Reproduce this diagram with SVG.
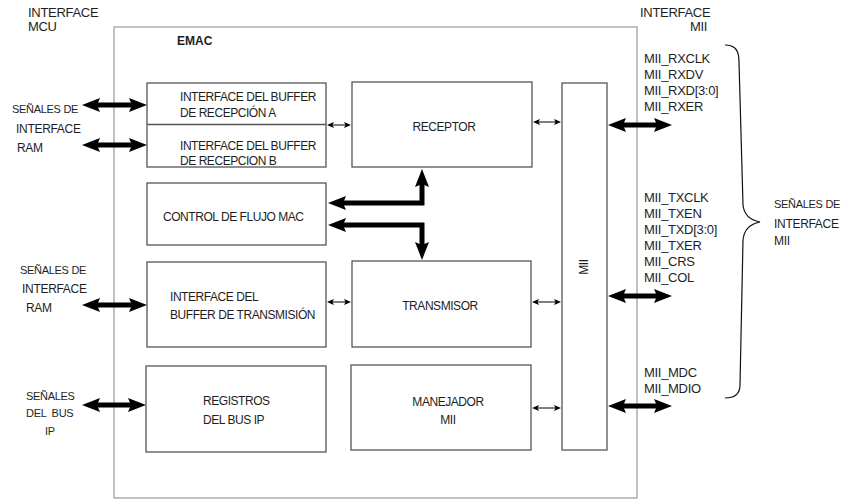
<svg xmlns="http://www.w3.org/2000/svg" width="844" height="499" viewBox="0 0 844 499">
<style>
text{font-family:"Liberation Sans",Arial,sans-serif;fill:#1e1e1e}
.bx{font-size:12px;letter-spacing:-0.45px}
.lb{font-size:11px;letter-spacing:-0.3px}
.hd{font-size:13px;letter-spacing:-0.3px}
.sg{font-size:13px;letter-spacing:-0.3px}
.box{fill:#fff;stroke:#555;stroke-width:1.3}
.outer{fill:#fff;stroke:#999;stroke-width:1.2}
.big{fill:none;stroke:#000;stroke-width:5;marker-start:url(#bh);marker-end:url(#bh)}
.sm{fill:none;stroke:#000;stroke-width:1;marker-start:url(#sh);marker-end:url(#sh)}
.mid{text-anchor:middle}
</style>
<defs>
<marker id="bh" viewBox="0 0 18 14" refX="3" refY="7" markerWidth="18" markerHeight="14" markerUnits="userSpaceOnUse" orient="auto-start-reverse">
<path d="M0,0 L18,7 L0,14 L3,7 Z" fill="#000"/>
</marker>
<marker id="sh" viewBox="0 0 7 6" refX="1.5" refY="3" markerWidth="7" markerHeight="6" markerUnits="userSpaceOnUse" orient="auto-start-reverse">
<path d="M0,0 L7,3 L0,6 L1.5,3 Z" fill="#000"/>
</marker>
</defs>
<rect width="844" height="499" fill="#fff"/>

<g id="emac">
<rect class="outer" x="114" y="27" width="523" height="471"/>
<text x="177" y="45" style="font-size:12px;font-weight:bold">EMAC</text>
</g>

<g id="label-mcu"><text class="hd" x="28" y="17">INTERFACE</text><text class="hd" x="28" y="31">MCU</text></g>
<g id="label-mii-if"><text class="hd" x="640" y="17">INTERFACE</text><text class="hd" x="690" y="31">MII</text></g>

<g id="label-ram-rx">
<text class="lb" x="12" y="113">SEÑALES DE</text>
<text class="lb" x="16" y="133" style="font-size:12px">INTERFACE</text>
<text class="lb" x="17" y="152" style="font-size:12px">RAM</text>
</g>
<g id="label-ram-tx">
<text class="lb" x="20" y="274">SEÑALES DE</text>
<text class="lb" x="22" y="293" style="font-size:12px">INTERFACE</text>
<text class="lb" x="26" y="312" style="font-size:12px">RAM</text>
</g>
<g id="label-bus-ip">
<text class="lb" x="26" y="400">SEÑALES</text>
<text class="lb" x="26" y="417" xml:space="preserve">DEL  BUS</text>
<text class="lb" x="45" y="435">IP</text>
</g>

<g id="buffer-rx">
<rect class="box" x="147" y="83" width="179" height="84"/>
<line x1="147" y1="124.5" x2="326" y2="124.5" stroke="#555" stroke-width="1.3"/>
<text class="bx" x="180" y="101">INTERFACE DEL BUFFER</text>
<text class="bx" x="180" y="117">DE RECEPCIÓN A</text>
<text class="bx" x="180" y="150">INTERFACE DEL BUFFER</text>
<text class="bx" x="180" y="165">DE RECEPCION B</text>
</g>

<g id="control">
<rect class="box" x="147" y="183" width="179" height="62"/>
<text class="bx" x="163" y="221">CONTROL DE FLUJO MAC</text>
</g>

<g id="buffer-tx">
<rect class="box" x="147" y="262" width="179" height="85"/>
<text class="bx" x="170" y="301">INTERFACE DEL</text>
<text class="bx" x="170" y="319">BUFFER DE TRANSMISIÓN</text>
</g>

<g id="registros">
<rect class="box" x="146" y="366" width="180" height="86"/>
<text class="bx" x="203" y="405">REGISTROS</text>
<text class="bx" x="203" y="424">DEL BUS IP</text>
</g>

<g id="receptor">
<rect class="box" x="352" y="82" width="180" height="85"/>
<text class="bx mid" x="444" y="131">RECEPTOR</text>
</g>

<g id="transmisor">
<rect class="box" x="352" y="261" width="179" height="86"/>
<text class="bx mid" x="440" y="310">TRANSMISOR</text>
</g>

<g id="manejador">
<rect class="box" x="351" y="365" width="180" height="85"/>
<text class="bx mid" x="448" y="406">MANEJADOR</text>
<text class="bx mid" x="448" y="424">MII</text>
</g>

<g id="mii">
<rect class="box" x="562" y="83" width="45" height="367"/>
<text class="bx mid" x="584" y="271" transform="rotate(-90 584 267)">MII</text>
</g>

<g id="signals-rx">
<text class="sg" x="644" y="63">MII_RXCLK</text>
<text class="sg" x="644" y="79">MII_RXDV</text>
<text class="sg" x="644" y="95">MII_RXD[3:0]</text>
<text class="sg" x="644" y="111">MII_RXER</text>
</g>
<g id="signals-tx">
<text class="sg" x="644" y="202">MII_TXCLK</text>
<text class="sg" x="644" y="218">MII_TXEN</text>
<text class="sg" x="644" y="234">MII_TXD[3:0]</text>
<text class="sg" x="644" y="250">MII_TXER</text>
<text class="sg" x="644" y="266">MII_CRS</text>
<text class="sg" x="644" y="282">MII_COL</text>
</g>
<g id="signals-md">
<text class="sg" x="644" y="377">MII_MDC</text>
<text class="sg" x="644" y="393">MII_MDIO</text>
</g>
<g id="label-mii-signals">
<path d="M725,45 C735,45 739,50 739,62 L743,205 C744,215 750,220 760,222 C750,224 744,229 743,240 L740,385 C740,394 735,398 725,398" fill="none" stroke="#111" stroke-width="1.2"/>
<text class="lb" x="774" y="208">SEÑALES DE</text>
<text class="lb" x="774" y="228" style="font-size:12px">INTERFACE</text>
<text class="lb" x="774" y="245" style="font-size:12px">MII</text>
</g>

<g id="connectors">
<line class="big" x1="97" y1="105" x2="132" y2="105"/>
<line class="big" x1="97" y1="145" x2="132" y2="145"/>
<line class="big" x1="97" y1="305" x2="132" y2="305"/>
<line class="big" x1="97" y1="405" x2="131" y2="405"/>
<line class="big" x1="623" y1="125" x2="657" y2="125"/>
<line class="big" x1="623" y1="296" x2="657" y2="296"/>
<line class="big" x1="623" y1="406" x2="657" y2="406"/>
<path class="big" d="M343,203 L422,203 L422,184" stroke-linejoin="miter"/>
<path class="big" d="M343,225 L422,225 L422,245" stroke-linejoin="miter"/>
<line class="sm" x1="332.5" y1="125" x2="345.5" y2="125"/>
<line class="sm" x1="538.5" y1="122" x2="555.5" y2="122"/>
<line class="sm" x1="332.5" y1="302" x2="345.5" y2="302"/>
<line class="sm" x1="537.5" y1="302" x2="555.5" y2="302"/>
<line class="sm" x1="537.5" y1="408" x2="555.5" y2="408"/>
</g>
</svg>
